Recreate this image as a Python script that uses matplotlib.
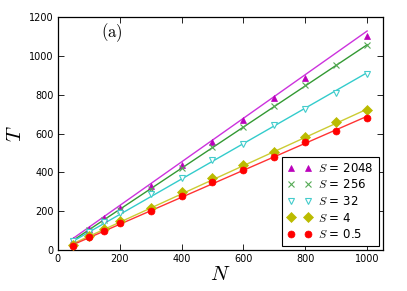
import matplotlib
matplotlib.use("Agg")
import matplotlib.pyplot as plt
import numpy as np

plt.rcParams['mathtext.fontset'] = 'cm'
plt.rcParams['font.family'] = ['DejaVu Sans']

labels = ['2048', '256', '32', '4', '0.5']
N_full = [50, 100, 150, 200, 300, 400, 500, 600, 700, 800, 900, 1000]
N_2048 = [50, 100, 150, 200, 300, 400, 500, 600, 700, 800, 1000]
T_2048 = [52, 108, 165, 215, 330, 438, 555, 670, 783, 887, 1102]
T_256 = [45, 103, 155, 205, 315, 421, 529, 635, 743, 850, 953, 1059]
T_32 = [48, 94, 146, 189, 288, 369, 463, 549, 644, 730, 810, 910]
T_4 = [27, 72, 110, 147, 215, 300, 369, 438, 506, 582, 658, 724]
T_05 = [22, 65, 100, 137, 201, 278, 349, 412, 480, 555, 613, 683]
fit_slope = [1.126, 1.062, 0.915, 0.730, 0.697]
fit_intercept = [4, -3, 0, -3, -7]
fit_range = [50, 1000]

series = [(N_2048, T_2048), (N_full, T_256), (N_full, T_32), (N_full, T_4), (N_full, T_05)]
line_colors = ['#cc33dd', '#339933', '#33cccc', '#cccc33', '#ff3333']
mk_colors = ['#bb00bb', '#55aa55', '#44cccc', '#bbbb00', '#ff0000']
markers = ['^', 'x', 'v', 'D', 'o']
faces = ['#bb00bb', 'none', 'white', '#bbbb00', '#ff0000']
msizes = [4.8, 5, 5, 4.8, 5]

fig = plt.figure(figsize=(4.07, 2.91), dpi=100)
ax = fig.add_axes([0.142, 0.141, 0.798, 0.799])

xs = np.array(fit_range, dtype=float)
for i, (n, t) in enumerate(series):
    ax.plot(xs, fit_slope[i] * xs + fit_intercept[i], '-', color=line_colors[i], lw=1.0, zorder=2)
for i, (n, t) in enumerate(series):
    ax.plot(n, t, linestyle='none', marker=markers[i], markersize=msizes[i],
            markerfacecolor=faces[i], markeredgecolor=mk_colors[i],
            markeredgewidth=0.8 if markers[i] in ('x', 'v') else 0.5,
            label=r'$S$ = ' + labels[i], zorder=3)

ax.set_xlim(0, 1050)
ax.set_ylim(0, 1200)
ax.set_xticks([0, 200, 400, 600, 800, 1000])
ax.set_yticks([0, 200, 400, 600, 800, 1000, 1200])
ax.tick_params(direction='in', top=True, right=True, labelsize=7, length=4, width=0.6, pad=3)
for s in ax.spines.values():
    s.set_linewidth(0.9)

ax.set_xlabel(r'$N$', fontsize=15, labelpad=0)
ax.set_ylabel(r'$T$', fontsize=15, labelpad=3)
ax.text(0.167, 0.935, r'$\mathrm{(a)}$', transform=ax.transAxes, ha='center', va='center', fontsize=12)

leg = ax.legend(loc='lower right', numpoints=2, fontsize=8.5, fancybox=False, framealpha=1,
                edgecolor='black', borderaxespad=0.3, handlelength=2.0, labelspacing=0.3,
                borderpad=0.45, handletextpad=0.6)
leg.get_frame().set_linewidth(0.8)

fig.savefig('out.png', dpi=100)
